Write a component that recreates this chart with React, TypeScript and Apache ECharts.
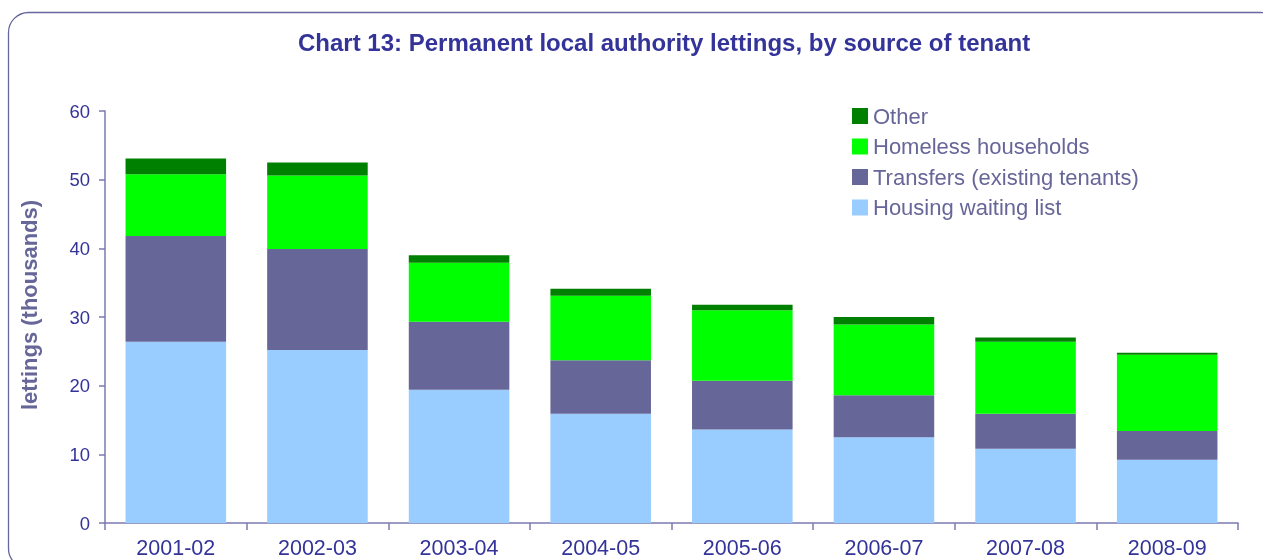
import React, { useEffect, useRef } from "react";
import * as echarts from "echarts";

const categories = ["2001-02", "2002-03", "2003-04", "2004-05", "2005-06", "2006-07", "2007-08", "2008-09"];
const waitingList = [26.4, 25.2, 19.4, 15.9, 13.6, 12.5, 10.8, 9.2];
const transfers = [15.4, 14.7, 9.9, 7.8, 7.1, 6.1, 5.1, 4.2];
const homeless = [9.0, 10.7, 8.6, 9.4, 10.3, 10.3, 10.5, 11.1];
const other = [2.3, 1.9, 1.1, 1.0, 0.8, 1.1, 0.6, 0.3];
const yTicks = { min: 0, max: 60, interval: 10 };

const FONT = "'Liberation Sans', Arial, sans-serif";

export default function App() {
  const ref = useRef<HTMLDivElement>(null);
  useEffect(() => {
    document.body.style.margin = "0";
    const chart = echarts.init(ref.current!, null, { renderer: "svg" });
    const mk = (name: string, data: number[], color: string) => ({
      name,
      type: "bar",
      stack: "total",
      data,
      barCategoryGap: "29%",
      itemStyle: { color },
    });
    chart.setOption({
      animation: false,
      textStyle: { fontFamily: FONT },
      graphic: [
        {
          type: "rect",
          shape: { x: 8.5, y: 12.5, width: 1272, height: 556, r: 20 },
          style: { fill: "none", stroke: "#6666a0", lineWidth: 1.3 },
          silent: true,
        },
      ],
      title: {
        text: "Chart 13: Permanent local authority lettings, by source of tenant",
        left: 293,
        top: 25,
        textStyle: { color: "#333399", fontSize: 24, fontWeight: "bold", fontFamily: FONT },
      },
      legend: {
        orient: "vertical",
        left: 847,
        top: 100,
        itemWidth: 16,
        itemHeight: 16,
        itemGap: 8.5,
        icon: "rect",
        textStyle: { color: "#666699", fontSize: 22, fontFamily: FONT, padding: [0, 0, 0, 0] },
        data: ["Other", "Homeless households", "Transfers (existing tenants)", "Housing waiting list"],
      },
      grid: { left: 105, right: 25, top: 111, bottom: 37, containLabel: false },
      xAxis: {
        type: "category",
        data: categories,
        axisLine: { lineStyle: { color: "#7a7ab0", width: 1.5 } },
        axisTick: { show: true, length: 7, lineStyle: { color: "#7a7ab0", width: 1.5 } },
        axisLabel: { color: "#333399", fontSize: 21.5, margin: 14, fontFamily: FONT },
      },
      yAxis: {
        type: "value",
        min: yTicks.min,
        max: yTicks.max,
        interval: yTicks.interval,
        name: "lettings (thousands)",
        nameLocation: "middle",
        nameGap: 65,
        nameTextStyle: { color: "#666699", fontSize: 22, fontWeight: "bold", fontFamily: FONT, padding: [0, 0, 0, 24] },
        axisLine: { show: true, lineStyle: { color: "#7a7ab0", width: 1.5 } },
        axisTick: { show: true, length: 6, lineStyle: { color: "#7a7ab0", width: 1.5 } },
        axisLabel: { color: "#333399", fontSize: 18.5, margin: 15, fontFamily: FONT },
        splitLine: { show: false },
      },
      series: [
        mk("Housing waiting list", waitingList, "#99ccff"),
        mk("Transfers (existing tenants)", transfers, "#666699"),
        mk("Homeless households", homeless, "#00ff00"),
        mk("Other", other, "#008000"),
      ],
    });
    return () => chart.dispose();
  }, []);
  return <div ref={ref} style={{ position: "fixed", left: 0, top: 0, width: 1263, height: 560 }} />;
}
